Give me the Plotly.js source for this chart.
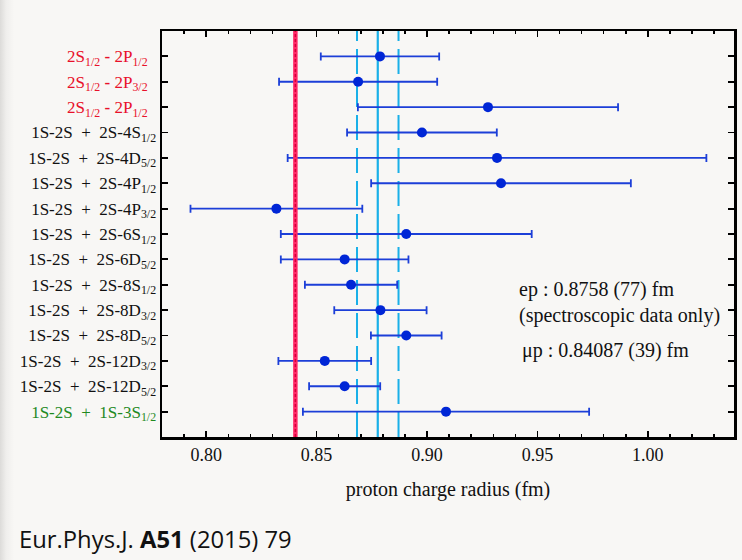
<!DOCTYPE html>
<html>
<head>
<meta charset="utf-8">
<script src="https://cdn.plot.ly/plotly-3.0.1.min.js"></script>
<style>
  html, body { margin:0; padding:0; }
  body { width:742px; height:560px; overflow:hidden;
         background: linear-gradient(to right, #dcdbd9 0px, #efeeec 6px, #f8f7f5 14px); }
  #chart { width:742px; height:560px; }
</style>
</head>
<body>
<div id="chart"></div>
<script>
// ---- data ----
const labels = [
  '<span style="color:#e8102a">2S<sub>1/2</sub> <b>-</b> 2P<sub>1/2</sub>\u00a0\u00a0</span>',
  '<span style="color:#e8102a">2S<sub>1/2</sub> <b>-</b> 2P<sub>3/2</sub>\u00a0\u00a0</span>',
  '<span style="color:#e8102a">2S<sub>1/2</sub> <b>-</b> 2P<sub>1/2</sub>\u00a0\u00a0</span>',
  '1S-2S\u00a0 +\u00a0 2S-4S<sub>1/2</sub>',
  '1S-2S\u00a0 +\u00a0 2S-4D<sub>5/2</sub>',
  '1S-2S\u00a0 +\u00a0 2S-4P<sub>1/2</sub>',
  '1S-2S\u00a0 +\u00a0 2S-4P<sub>3/2</sub>',
  '1S-2S\u00a0 +\u00a0 2S-6S<sub>1/2</sub>',
  '1S-2S\u00a0 +\u00a0 2S-6D<sub>5/2</sub>',
  '1S-2S\u00a0 +\u00a0 2S-8S<sub>1/2</sub>',
  '1S-2S\u00a0 +\u00a0 2S-8D<sub>3/2</sub>',
  '1S-2S\u00a0 +\u00a0 2S-8D<sub>5/2</sub>',
  '1S-2S\u00a0 +\u00a0 2S-12D<sub>3/2</sub>',
  '1S-2S\u00a0 +\u00a0 2S-12D<sub>5/2</sub>',
  '<span style="color:#1f8a1f">1S-2S\u00a0 +\u00a0 1S-3S<sub>1/2</sub></span>'
];
const rows = [1,2,3,4,5,6,7,8,9,10,11,12,13,14,15];
const radius = [0.8787, 0.8688, 0.9276, 0.8977, 0.9317, 0.9335, 0.8318, 0.8906,
                0.8627, 0.8656, 0.8789, 0.8906, 0.8537, 0.8627, 0.9086];
const uncert = [0.0268, 0.0358, 0.0589, 0.0339, 0.0948, 0.0588, 0.0389, 0.0568,
                0.0289, 0.0209, 0.0209, 0.0160, 0.0210, 0.0161, 0.0648];
const muP = 0.8404;           // muonic hydrogen line
const eP = 0.8777;            // ep spectroscopic average (as drawn)
const eP_lo = 0.8683, eP_hi = 0.8871;
const xTickVals = [0.80, 0.85, 0.90, 0.95, 1.00];
const xTickText = ['0.80', '0.85', '0.90', '0.95', '1.00'];

const trace = {
  type: 'scatter', mode: 'markers',
  x: radius, y: rows,
  marker: {color: '#0026d6', size: 10},
  error_x: {type: 'data', array: uncert, visible: true, color: '#1c3fd8', thickness: 1.8, width: 4},
  hoverinfo: 'x', showlegend: false, cliponaxis: false
};

const shapes = [
  {type:'line', xref:'x', yref:'paper', x0:eP_lo, x1:eP_lo, y0:0, y1:1,
   line:{color:'#1ab0e8', width:2, dash:'25px,8px'}, layer:'below'},
  {type:'line', xref:'x', yref:'paper', x0:eP_hi, x1:eP_hi, y0:0, y1:1,
   line:{color:'#1ab0e8', width:2, dash:'25px,8px'}, layer:'below'},
  {type:'line', xref:'x', yref:'paper', x0:eP, x1:eP, y0:0, y1:1,
   line:{color:'#1ab0e8', width:2.2}, layer:'below'},
  {type:'line', xref:'x', yref:'paper', x0:muP, x1:muP, y0:0, y1:1,
   line:{color:'#ff2a68', width:4.5}, layer:'above'},
  {type:'line', xref:'x', yref:'paper', x0:muP, x1:muP, y0:0, y1:1,
   line:{color:'#d8003a', width:1.5, dash:'3px,2px'}, layer:'above'}
];

const serif = 'Liberation Serif, Times New Roman, serif';

const layout = {
  width: 742, height: 560,
  margin: {l:162, r:8, t:31, b:123},
  paper_bgcolor: 'rgba(0,0,0,0)',
  plot_bgcolor: '#f8f7f5',
  font: {family: serif, color: '#111', size: 17},
  xaxis: {
    range: [0.78, 1.039], tickvals: xTickVals, ticktext: xTickText,
    ticks: 'inside', ticklen: 6, tickwidth: 1.8, tickcolor: '#000',
    minor: {dtick: 0.01, tick0: 0.8, ticks: 'inside', ticklen: 3, tickwidth: 1.5, tickcolor:'#000'},
    showline: true, linewidth: 2.5, linecolor: '#000', mirror: 'ticks',
    showgrid: false, zeroline: false,
    tickfont: {family: serif, size: 18, color: '#111'},
    title: {text: 'proton charge radius (fm)', font: {family: serif, size: 20, color:'#111'}, standoff: 18}
  },
  yaxis: {
    range: [16, 0], tickvals: rows, ticktext: labels,
    ticks: 'inside', ticklen: 6, tickwidth: 1.8, tickcolor: '#000',
    showline: true, linewidth: 2.5, linecolor: '#000', mirror: 'ticks',
    showgrid: false, zeroline: false,
    tickfont: {family: serif, size: 17, color: '#111'}
  },
  shapes: shapes,
  annotations: [
    {xref:'paper', yref:'paper', x:0.62, y:0.332, xanchor:'left', yanchor:'middle', showarrow:false, align:'left',
     text:'ep : 0.8758 (77) fm<br>(spectroscopic data only)', font:{family:serif, size:20, color:'#111'}},
    {xref:'paper', yref:'paper', x:0.625, y:0.212, xanchor:'left', yanchor:'middle', showarrow:false,
     text:'\u03bcp : 0.84087 (39) fm', font:{family:serif, size:20, color:'#111'}},
    {xref:'paper', yref:'paper', x:-0.2535, y:-0.25, xanchor:'left', yanchor:'middle', showarrow:false,
     text:'Eur.Phys.J. <b>A51</b> (2015) 79', font:{family:'Open Sans, Noto Sans, sans-serif', size:23.8, color:'#111'}}
  ]
};

Plotly.newPlot('chart', [trace], layout, {displayModeBar:false, staticPlot:true});
</script>
</body>
</html>
